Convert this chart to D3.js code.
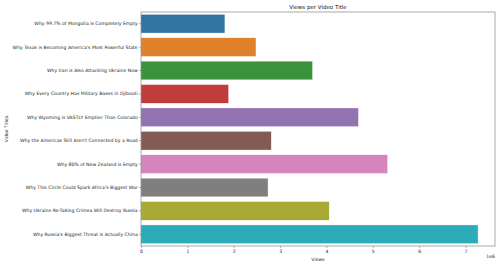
<!DOCTYPE html>
<html>
<head>
<meta charset="utf-8">
<script src="https://cdn.jsdelivr.net/npm/d3@7"></script>
<style>
  body { margin: 0; background: #fff; }
  text { font-family: "DejaVu Sans", sans-serif; fill: #222; }
</style>
</head>
<body>
<div id="plot"></div>
<script>
var titles = [
  "Why 99.7% of Mongolia is Completely Empty",
  "Why Texas is Becoming America's Most Powerful State",
  "Why Iran is Also Attacking Ukraine Now",
  "Why Every Country Has Military Bases in Djibouti",
  "Why Wyoming is VASTLY Emptier Than Colorado",
  "Why the Americas Still Aren't Connected by a Road",
  "Why 80% of New Zealand is Empty",
  "Why This Circle Could Spark Africa's Biggest War",
  "Why Ukraine Re-Taking Crimea Will Destroy Russia",
  "Why Russia's Biggest Threat is Actually China"
];
var views = [1.81e6, 2.48e6, 3.70e6, 1.89e6, 4.69e6, 2.81e6, 5.32e6, 2.74e6, 4.06e6, 7.27e6];
var barColors = ["#3274a1", "#e1812c", "#3a923a", "#c03d3e", "#9372b2",
                 "#845b53", "#d684bd", "#7f7f7f", "#a9aa35", "#2eabb8"];
var xTicks = [0, 1, 2, 3, 4, 5, 6, 7];

var width = 500, height = 267;
var margin = { top: 12, right: 5, bottom: 21, left: 141 };
var innerW = width - margin.left - margin.right;
var innerH = height - margin.top - margin.bottom;

var svg = d3.select("#plot").append("svg")
  .attr("width", width)
  .attr("height", height);

var g = svg.append("g")
  .attr("transform", "translate(" + margin.left + "," + margin.top + ")");

var x = d3.scaleLinear().domain([0, 7.635e6]).range([0, innerW]);
var y = d3.scaleBand().domain(titles).range([0, innerH]).paddingInner(0.2).paddingOuter(0.1);

g.selectAll("rect.bar")
  .data(titles)
  .enter()
  .append("rect")
  .attr("class", "bar")
  .attr("x", x(0))
  .attr("y", function (d) { return y(d); })
  .attr("width", function (d, i) { return x(views[i]) - x(0); })
  .attr("height", y.bandwidth())
  .attr("fill", function (d, i) { return barColors[i]; })
  .attr("stroke", "#fff")
  .attr("stroke-width", 0.4);

var xAxis = g.append("g")
  .attr("transform", "translate(0," + innerH + ")")
  .call(d3.axisBottom(x).tickValues(xTicks.map(function (t) { return t * 1e6; }))
    .tickFormat(function (d) { return d / 1e6; }).tickSizeOuter(0).tickSize(1.8).tickPadding(1.5));

var yAxis = g.append("g")
  .call(d3.axisLeft(y).tickSizeOuter(0).tickSize(1.8).tickPadding(1.5));

[xAxis, yAxis].forEach(function (a) {
  a.selectAll("text").style("font-size", "4.6px").attr("fill", "#222");
  a.selectAll(".tick line").attr("stroke", "#333").attr("stroke-width", 0.4);
  a.select(".domain").remove();
});

// frame
g.append("rect")
  .attr("width", innerW)
  .attr("height", innerH)
  .attr("fill", "none")
  .attr("stroke", "#555")
  .attr("stroke-width", 0.5);

svg.append("text")
  .attr("x", margin.left + innerW / 2)
  .attr("y", 9)
  .attr("text-anchor", "middle")
  .style("font-size", "5.5px")
  .text("Views per Video Title");

svg.append("text")
  .attr("x", margin.left + innerW / 2)
  .attr("y", 261)
  .attr("text-anchor", "middle")
  .style("font-size", "4.6px")
  .text("Views");

svg.append("text")
  .attr("x", width - margin.right)
  .attr("y", 258)
  .attr("text-anchor", "end")
  .style("font-size", "4.6px")
  .text("1e6");

svg.append("text")
  .attr("transform", "translate(8," + (margin.top + innerH / 2) + ") rotate(-90)")
  .attr("text-anchor", "middle")
  .style("font-size", "4.6px")
  .text("Video Titles");
</script>
</body>
</html>
